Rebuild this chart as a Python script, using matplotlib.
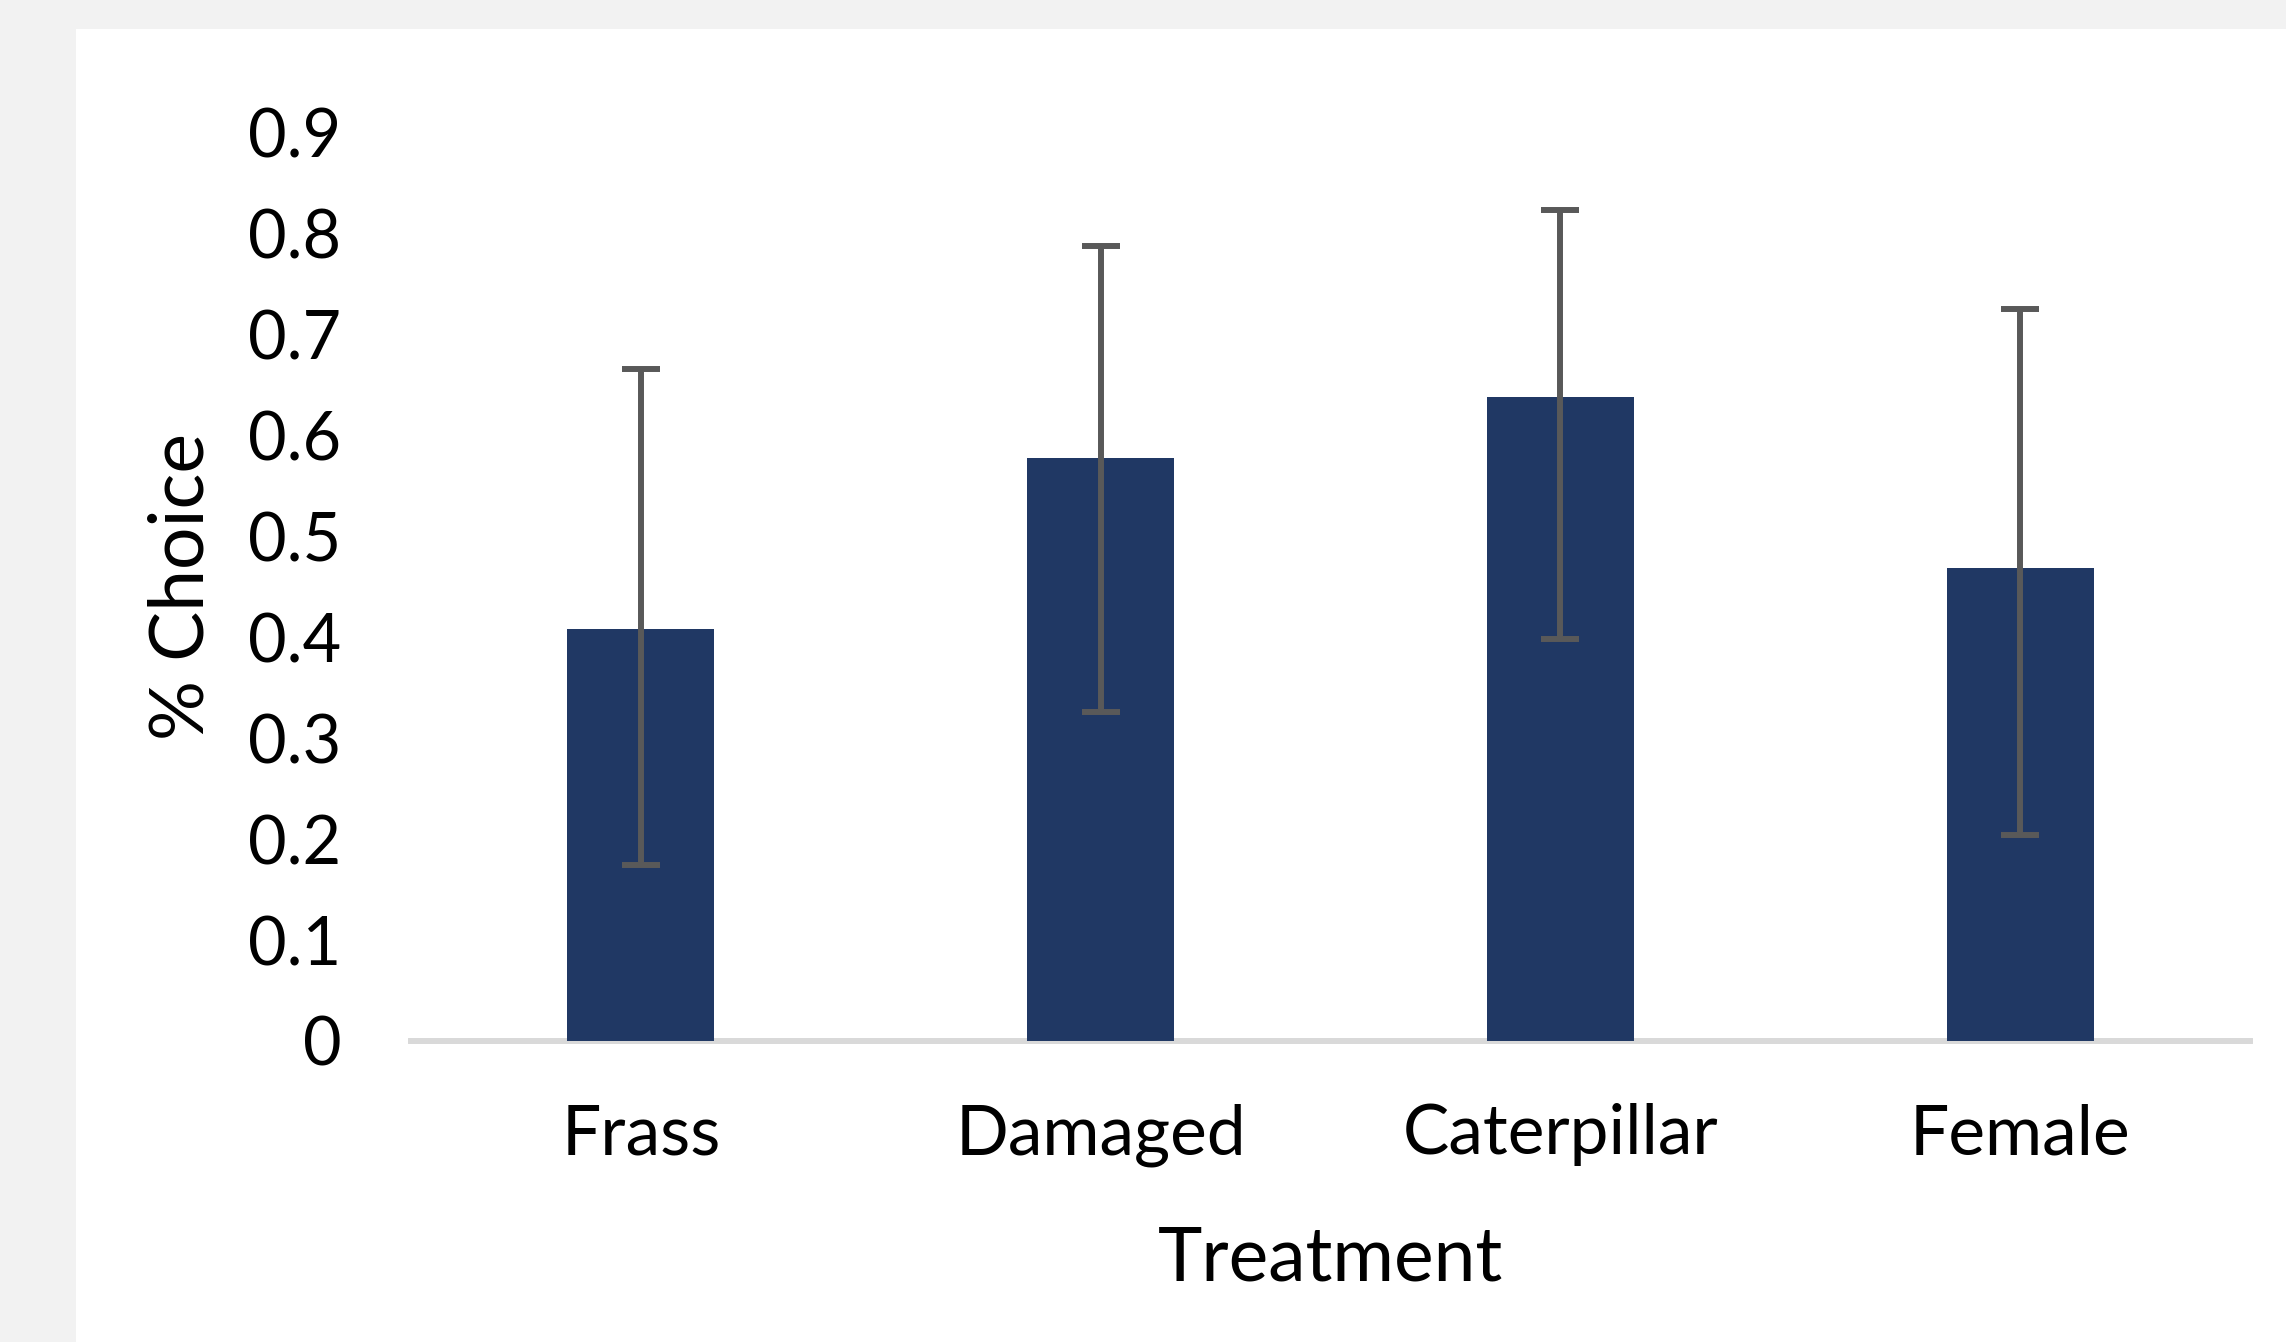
# Bar chart of % choice by treatment, with error bars

import matplotlib
matplotlib.use('Agg')
import matplotlib.pyplot as plt
from matplotlib.patches import Rectangle

# data
categories = ['Frass', 'Damaged', 'Caterpillar', 'Female']
choice = [0.408, 0.578, 0.638, 0.469]
err_low = [0.234, 0.252, 0.240, 0.265]
err_high = [0.258, 0.210, 0.186, 0.257]
y_ticks = [0, 0.1, 0.2, 0.3, 0.4, 0.5, 0.6, 0.7, 0.8, 0.9]
y_tick_labels = ['0', '0.1', '0.2', '0.3', '0.4', '0.5', '0.6', '0.7', '0.8', '0.9']

# style
BAR_COLOR = '#203864'
ERR_COLOR = '#595959'
AXIS_COLOR = '#d9d9d9'

plt.rcParams['font.family'] = ['Lato', 'DejaVu Sans']

W, H = 2286, 1342
fig = plt.figure(figsize=(W / 100, H / 100), dpi=100)
fig.patch.set_facecolor('#f2f2f2')
# white chart area inside the grey frame
fig.add_artist(Rectangle((76 / W, 0), 1 - 76 / W, (H - 29) / H,
                         transform=fig.transFigure, facecolor='white',
                         edgecolor='none', zorder=-10))

ax = fig.add_axes([411 / W, (H - 1041) / H, (2250 - 411) / W, (1041 - 133) / H])
ax.set_facecolor('none')
ax.set_zorder(1)

x = range(len(categories))
ax.bar(x, choice, width=0.32, color=BAR_COLOR, zorder=2)
ax.errorbar(x, choice, yerr=[err_low, err_high], fmt='none',
            ecolor=ERR_COLOR, elinewidth=4.3, capsize=14, capthick=4.3,
            zorder=3)

ax.set_xlim(-0.5, len(categories) - 0.5)
ax.set_ylim(0, 0.9)
ax.set_xticks(list(x))
ax.set_xticklabels(categories, fontsize=50)
ax.set_yticks(y_ticks)
ax.set_yticklabels(y_tick_labels, fontsize=48)
ax.tick_params(axis='both', length=0, colors='black')
ax.tick_params(axis='y', pad=50)
ax.tick_params(axis='x', pad=45)

for side in ['top', 'right', 'left']:
    ax.spines[side].set_visible(False)
ax.spines['bottom'].set_color(AXIS_COLOR)
ax.spines['bottom'].set_linewidth(4.3)
ax.spines['bottom'].set_zorder(1)

ax.set_xlabel('Treatment', fontsize=54, color='black')
ax.xaxis.set_label_coords(0.5, -0.24)
ax.xaxis.label.set_va('center')
ax.set_ylabel('% Choice', fontsize=54, color='black')
ax.yaxis.set_label_coords(-0.1245, 0.5)
ax.yaxis.label.set_va('center')

fig.savefig('out.png', dpi=100, facecolor=fig.get_facecolor())
